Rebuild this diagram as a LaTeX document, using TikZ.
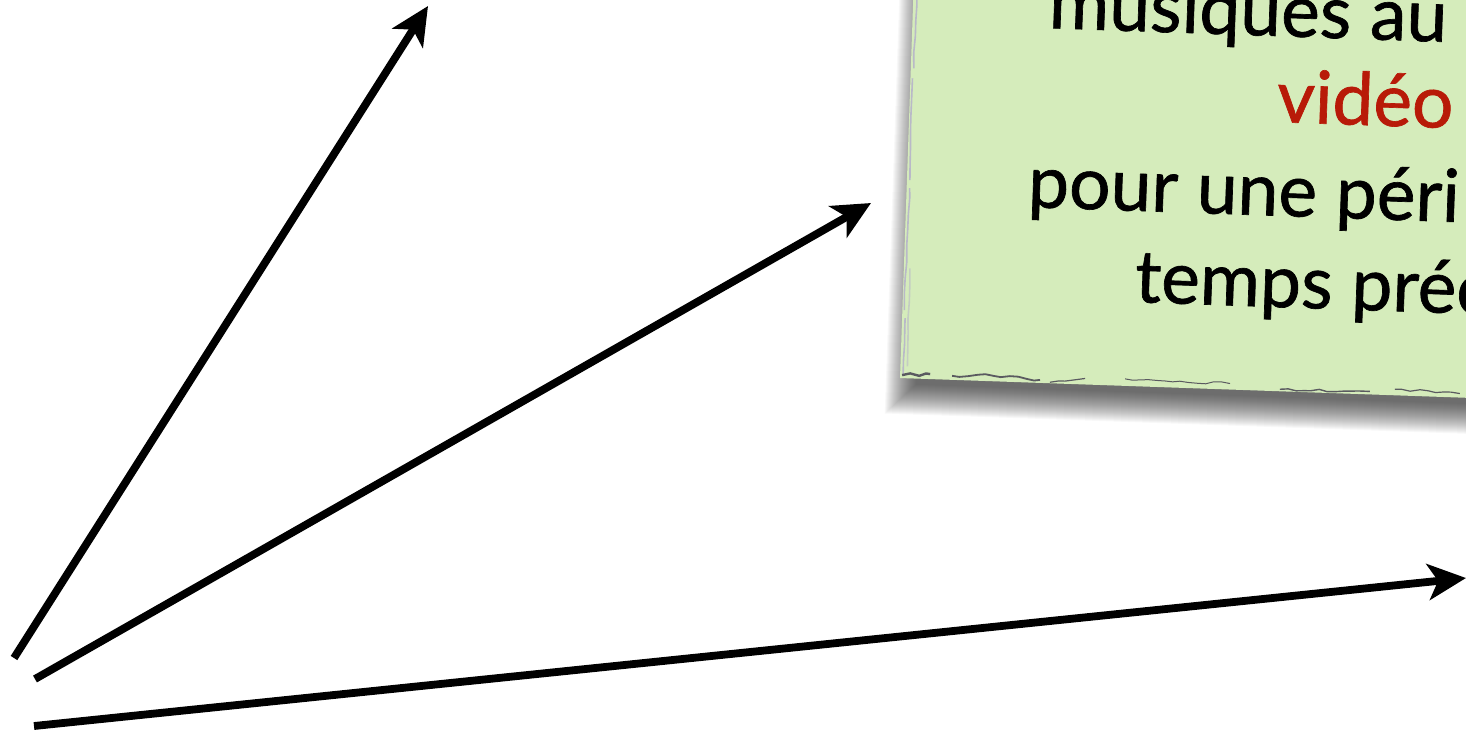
\documentclass[tikz,border=0pt]{standalone}
\usepackage{fontspec}
\setmainfont{Lato}
\newfontfamily\notefont{Lato}[FakeBold=0.9]
\usetikzlibrary{arrows.meta,decorations.pathmorphing}
\definecolor{notegreen}{RGB}{213,236,187}
\definecolor{notered}{RGB}{184,26,8}
\definecolor{edgegray}{RGB}{90,90,96}
\definecolor{edgelilac}{RGB}{185,185,200}
\begin{document}
\begin{tikzpicture}[x=0.5pt,y=-0.5pt,
  pointer/.style={line width=3.9pt, line cap=butt,
    -{Stealth[length=19pt,width=18pt,inset=5pt]}},
  notetext/.style={anchor=base west, rotate=-2, inner sep=0pt,
    font=\notefont\fontsize{36.6}{44}\selectfont},
  roughedge/.style={draw=edgegray, line width=0.9pt,
    decorate, decoration={random steps, segment length=4pt, amplitude=0.7pt}},
  softedge/.style={draw=edgelilac, line width=0.8pt,
    decorate, decoration={random steps, segment length=8pt, amplitude=0.4pt}}]
\useasboundingbox (0,0) rectangle (1466,736);
\clip (0,0) rectangle (1466,736);
\pgfmathsetseed{7}

% sticky note, tilted slightly clockwise, with its soft shadow
\begin{scope}[shift={(900,378)}, rotate=-2]
  \foreach \k in {0,...,30}
    \fill[black, opacity=0.028] (16-\k,-520-\k) rectangle (900+\k,6+\k);
  \fill[notegreen] (0,-520) rectangle (900,0);
  % pencil-like strokes along the left and bottom edges
  \draw[softedge] (3,-2) -- (3,-60);
  \draw[softedge] (2,-68) -- (3,-190);
  \draw[softedge] (3,-198) -- (2,-300);
  \draw[softedge] (3,-310) -- (4,-520);
  \draw[softedge, opacity=0.6] (7,-12) -- (6,-110);
  \draw[roughedge, line width=1.2pt] (2,-3) -- (30,-5);
  \draw[roughedge] (52,-4) -- (78,-6) -- (140,-3);
  \draw[roughedge, line width=0.6pt] (150,-1) -- (185,-6);
  \draw[roughedge, line width=0.5pt] (225,-7) -- (330,-6);
  \draw[roughedge, line width=0.7pt] (380,-2) -- (470,-3);
  \draw[roughedge, line width=0.6pt] (495,-6) -- (560,-4);
  \draw[roughedge, line width=0.8pt] (590,-2) -- (700,-3);
\end{scope}

% note text
\node[notetext] (l1) at (1048,28) {musiques au};
\node[notetext, text=notered] (l2) at (1276,122) {vidéo};
\node[notetext] (l3) at (1027,207) {pour une péri};
\node[notetext] (l4) at (1134,302) {temps préc};

% arrows fanning out from the lower left
\coordinate (a1s) at (14,658);
\coordinate (a1e) at (428,6);
\coordinate (a2s) at (35,679);
\coordinate (a2e) at (871,203);
\coordinate (a3s) at (34,726);
\coordinate (a3e) at (1466,578);
\draw[pointer] (a1s) -- (a1e);
\draw[pointer] (a2s) -- (a2e);
\draw[pointer] (a3s) -- (a3e);
\end{tikzpicture}
\end{document}
